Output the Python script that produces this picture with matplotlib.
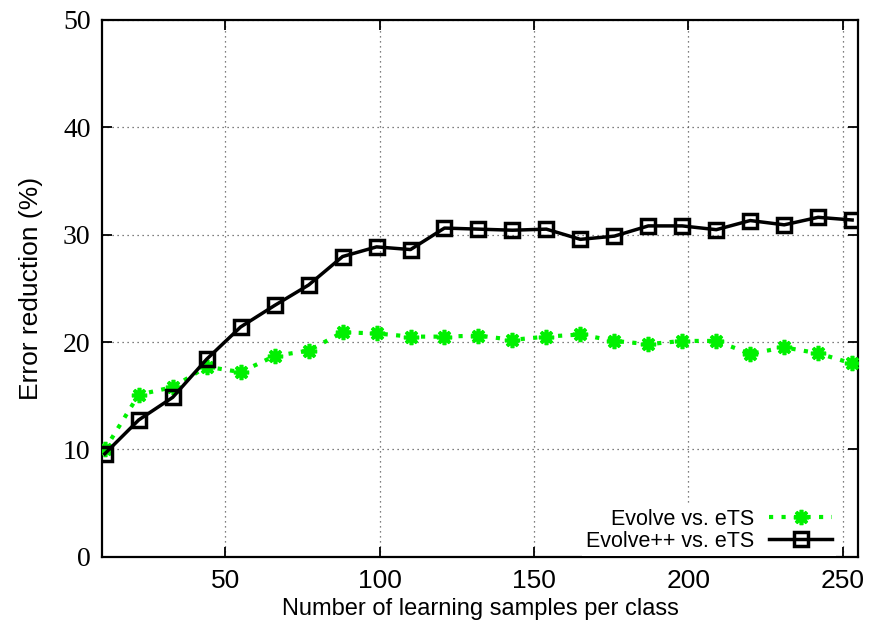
import matplotlib
matplotlib.use('Agg')
import matplotlib.pyplot as plt

# samples per class (11 .. 253)
samples = [11, 22, 33, 44, 55, 66, 77, 88, 99, 110, 121, 132, 143, 154,
           165, 176, 187, 198, 209, 220, 231, 242, 253]
evolve = [10.0, 15.1, 15.8, 17.7, 17.2, 18.7, 19.2, 20.9, 20.8, 20.5, 20.5,
          20.6, 20.2, 20.5, 20.7, 20.1, 19.8, 20.1, 20.1, 18.9, 19.5, 18.95, 18.0]
evolvepp = [9.6, 12.75, 14.85, 18.4, 21.4, 23.4, 25.3, 27.95, 28.85, 28.6,
            30.6, 30.5, 30.4, 30.5, 29.55, 29.85, 30.8, 30.8, 30.45, 31.3,
            30.9, 31.6, 31.35]
xticks = [50, 100, 150, 200, 250]
yticks = [0, 10, 20, 30, 40, 50]

sans = 'Liberation Sans'
serif = 'Liberation Serif'
plt.rcParams['font.family'] = sans

fig = plt.figure(figsize=(8.72, 6.30), dpi=100)
ax = fig.add_axes([0.1166, 0.1159, 0.8677, 0.8531])

ax.plot(samples, evolve, color='#00f000', lw=3, linestyle=(0, (1, 2)),
        dash_capstyle='butt', marker=(8, 2, 0), markersize=11, mew=2.6,
        label='Evolve vs. eTS', zorder=3)
ax.plot(samples, evolvepp, color='black', lw=2.5, marker='s', markersize=9.5,
        mfc='none', mew=2.5, label='Evolve++ vs. eTS', zorder=4)

ax.set_xlim(10, 255)
ax.set_ylim(0, 50)
ax.set_xticks(xticks, labels=[str(v) for v in xticks], fontfamily=sans, fontsize=19)
ax.set_yticks(yticks, labels=[str(v) for v in yticks], fontfamily=serif, fontsize=20)
ax.tick_params(direction='in', length=7, width=1.3, top=True, right=True)
ax.tick_params(axis='x', pad=9)
ax.tick_params(axis='y', pad=8)
for s in ax.spines.values():
    s.set_linewidth(1.6)

ax.grid(True, color='#555555', linestyle=(0, (1, 3)), linewidth=0.9)
ax.set_axisbelow(True)

ax.set_xlabel('Number of learning samples per class', fontsize=17, labelpad=3)
ax.set_ylabel('Error reduction (%)', fontsize=19, labelpad=14)

leg = ax.legend(loc='lower right', bbox_to_anchor=(0.985, -0.018), markerfirst=False,
                numpoints=1, handlelength=2.9, handletextpad=0.7,
                labelspacing=0.05, borderpad=0.2, fancybox=False,
                prop={'family': sans, 'size': 15.5})
leg.get_frame().set_facecolor('white')
leg.get_frame().set_edgecolor('none')
leg.get_frame().set_alpha(1)

fig.savefig('out.png', dpi=100)
